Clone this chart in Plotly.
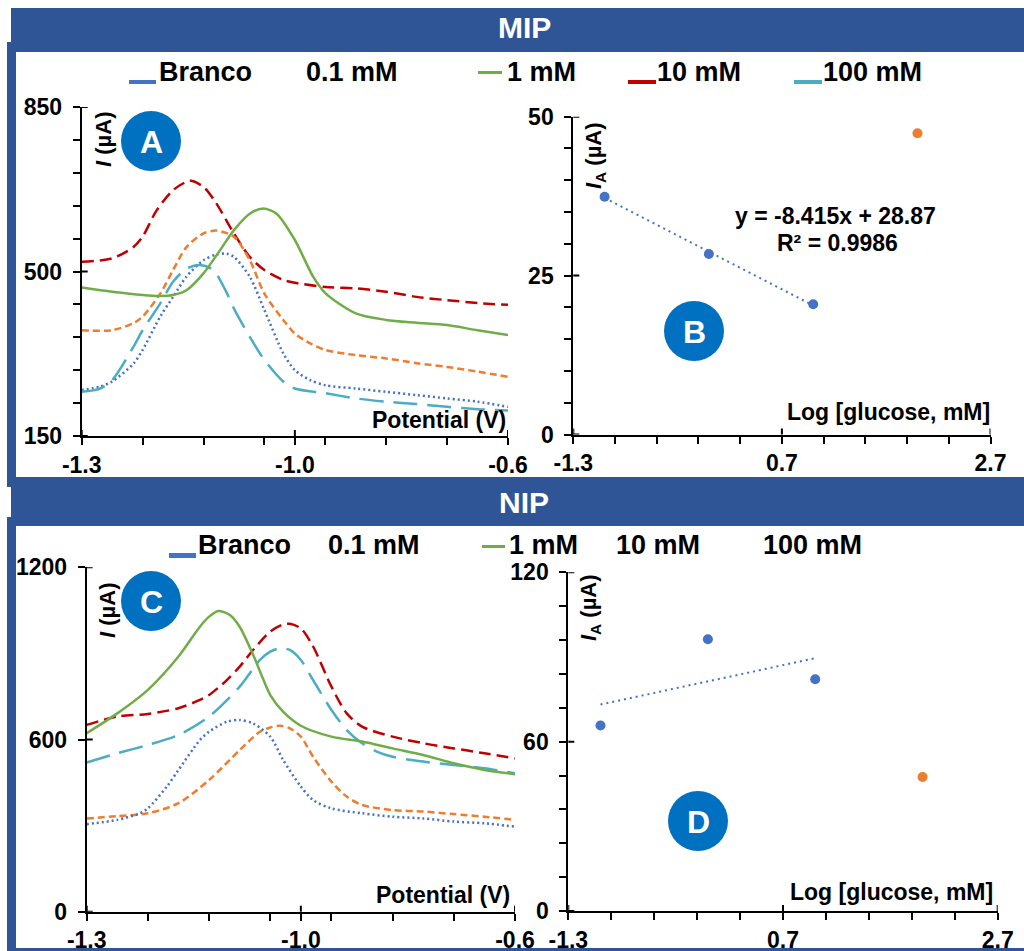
import plotly.graph_objects as go
import numpy as np

W, H = 1024, 951
FONT = "Liberation Sans, Arial, Helvetica, sans-serif"
FRAME = "#2F5597"
BADGE = "#0070C0"

C_BRANCO = "#4472C4"
C_01 = "#ED7D31"
C_1 = "#70AD47"
C_10 = "#C00000"
C_100 = "#4BACC6"

# ---------------- Panel A (MIP voltammograms) ----------------
a_branco_x = [-1.30, -1.27, -1.25, -1.215, -1.20, -1.171, -1.15, -1.128, -1.10, -1.079, -1.062, -1.05,
              -1.024, -1.00, -0.969, -0.95, -0.925, -0.90, -0.85, -0.80, -0.75, -0.70, -0.65, -0.60]
a_branco_y = [248, 255, 266, 304, 333, 404, 446, 489, 524, 536, 538, 531,
              489, 418, 326, 290, 269, 258, 251, 244, 237, 230, 223, 212]

a_01_x = [-1.30, -1.25, -1.215, -1.20, -1.171, -1.15, -1.128, -1.10, -1.079, -1.05, -1.024, -1.00,
          -0.969, -0.95, -0.925, -0.90, -0.85, -0.80, -0.75, -0.70, -0.65, -0.60]
a_01_y = [375, 375, 390, 404, 453, 503, 552, 581, 587, 574, 524, 453,
          397, 368, 347, 333, 322, 315, 305, 297, 287, 276]

a_1_x = [-1.30, -1.25, -1.20, -1.171, -1.15, -1.128, -1.10, -1.073, -1.05, -1.024, -1.002, -0.98,
         -0.95, -0.92, -0.90, -0.85, -0.80, -0.75, -0.70, -0.65, -0.60]
a_1_y = [466, 457, 450, 448, 450, 460, 496, 545, 588, 623, 634, 623,
         567, 489, 454, 411, 397, 391, 386, 375, 365]

a_10_x = [-1.30, -1.25, -1.215, -1.20, -1.177, -1.15, -1.128, -1.12, -1.10, -1.079, -1.05, -1.024,
          -1.00, -0.969, -0.95, -0.90, -0.85, -0.80, -0.75, -0.70, -0.65, -0.60]
a_10_y = [521, 528, 552, 574, 630, 673, 691, 693, 680, 645, 581, 531,
          503, 482, 476, 467, 464, 457, 446, 439, 433, 429]

a_100_x = [-1.30, -1.27, -1.25, -1.215, -1.20, -1.171, -1.15, -1.128, -1.106, -1.084, -1.062, -1.05,
           -1.024, -1.00, -0.969, -0.95, -0.90, -0.85, -0.80, -0.75, -0.70, -0.65, -0.60]
a_100_y = [244, 251, 269, 340, 375, 432, 478, 506, 514, 503, 455, 421,
           361, 312, 266, 251, 241, 230, 223, 218, 212, 207, 204]

# ---------------- Panel C (NIP voltammograms) ----------------
c_branco_x = [-1.30, -1.25, -1.213, -1.20, -1.169, -1.15, -1.115, -1.10, -1.071, -1.05, -1.028, -1.00,
              -0.979, -0.95, -0.93, -0.90, -0.85, -0.80, -0.75, -0.70, -0.65, -0.60]
c_branco_y = [305, 320, 343, 360, 436, 494, 598, 627, 662, 668, 656, 610,
              529, 436, 389, 360, 343, 331, 325, 314, 308, 296]

c_01_x = [-1.30, -1.25, -1.20, -1.15, -1.10, -1.05, -1.017, -1.00, -0.984, -0.968, -0.95, -0.93,
          -0.90, -0.875, -0.85, -0.80, -0.75, -0.70, -0.65, -0.60]
c_01_y = [325, 333, 343, 378, 459, 563, 627, 642, 648, 639, 610, 540,
          453, 401, 372, 354, 349, 340, 331, 320]

c_1_x = [-1.30, -1.25, -1.20, -1.15, -1.115, -1.10, -1.085, -1.066, -1.05, -1.028, -1.011, -1.00,
         -0.979, -0.95, -0.90, -0.85, -0.80, -0.75, -0.70, -0.65, -0.60]
c_1_y = [622, 691, 773, 889, 993, 1028, 1048, 1034, 993, 895, 807, 755,
         697, 648, 610, 593, 569, 546, 517, 494, 479]

c_10_x = [-1.30, -1.25, -1.20, -1.15, -1.115, -1.10, -1.071, -1.05, -1.028, -1.00, -0.979, -0.968,
          -0.95, -0.93, -0.90, -0.875, -0.85, -0.80, -0.75, -0.70, -0.65, -0.60]
c_10_y = [651, 680, 689, 709, 738, 755, 807, 854, 912, 976, 1001, 1003,
          987, 924, 784, 691, 645, 610, 587, 569, 552, 534]

c_100_x = [-1.30, -1.25, -1.20, -1.15, -1.10, -1.05, -1.017, -1.00, -0.984, -0.968, -0.95, -0.93,
           -0.90, -0.875, -0.85, -0.826, -0.80, -0.75, -0.70, -0.65, -0.60]
c_100_y = [520, 552, 581, 616, 680, 784, 877, 906, 918, 912, 877, 807,
           703, 633, 587, 558, 540, 523, 511, 500, 482]

# ---------------- Panels B and D (calibration) ----------------
log_conc = [-1, 0, 1]
log_conc_out = [2]
b_ia = [37.4, 28.4, 20.5]
b_ia_out = [47.4]
d_ia = [65.7, 96.3, 82.1]
d_ia_out = [47.5]
b_equation = "y = -8.415x + 28.87"
b_r2 = "R² = 0.9986"

# axis ticks
v_range = [-1.3, -0.6]
v_major = [-1.3, -0.95, -0.6]
v_major_text = ["-1.3", "-1.0", "-0.6"]
v_minor = [-1.2, -1.1, -1.0, -0.9, -0.8, -0.7]
log_range = [-1.3, 2.7]
log_major = [-1.3, 0.7, 2.7]
log_minor = [-0.9, -0.5, -0.1, 0.3, 1.1, 1.5, 1.9, 2.3]
a_yrange = [150, 850]
a_ymajor = [150, 500, 850]
a_yminor = [220, 290, 360, 430, 570, 640, 710, 780]
b_yrange = [0, 50]
b_ymajor = [0, 25, 50]
b_yminor = [5, 10, 15, 20, 30, 35, 40, 45]
c_yrange = [0, 1200]
c_ymajor = [0, 600, 1200]
d_yrange = [0, 120]
d_ymajor = [0, 60, 120]
d_yminor = [12, 24, 36, 48, 72, 84, 96, 108]

legend_labels = ["Branco", "0.1 mM", "1 mM", "10 mM", "100 mM"]


def pxx(x):
    return x / W


def pxy(y):
    return 1 - y / H


# domains in pixels -> paper
dom = {
    "A": dict(x=(81.7, 508.0), y=(107.0, 436.0)),
    "B": dict(x=(573.3, 990.5), y=(116.7, 434.5)),
    "C": dict(x=(86.7, 515.0), y=(567.3, 911.7)),
    "D": dict(x=(568.3, 997.7), y=(572.3, 911.0)),
}

fig = go.Figure()


def add_line(x, y, color, dash, xa, ya, width=2.5):
    fig.add_trace(go.Scatter(x=x, y=y, mode="lines", xaxis=xa, yaxis=ya, showlegend=False,
                             line=dict(color=color, width=width, dash=dash, shape="spline", smoothing=0.8),
                             hoverinfo="skip"))


DASH_BR = "2px,3px"
DASH_01 = "7px,4px"
DASH_10 = "12px,6px"
DASH_100 = "24px,10px"

add_line(a_10_x, a_10_y, C_10, DASH_10, "x", "y")
add_line(a_01_x, a_01_y, C_01, DASH_01, "x", "y")
add_line(a_branco_x, a_branco_y, C_BRANCO, DASH_BR, "x", "y")
add_line(a_100_x, a_100_y, C_100, DASH_100, "x", "y")
add_line(a_1_x, a_1_y, C_1, "solid", "x", "y")

add_line(c_10_x, c_10_y, C_10, DASH_10, "x3", "y3")
add_line(c_100_x, c_100_y, C_100, DASH_100, "x3", "y3")
add_line(c_01_x, c_01_y, C_01, DASH_01, "x3", "y3")
add_line(c_branco_x, c_branco_y, C_BRANCO, DASH_BR, "x3", "y3")
add_line(c_1_x, c_1_y, C_1, "solid", "x3", "y3")

# calibration: trend lines fitted from data
for ys, xa, ya in [(b_ia, "x2", "y2"), (d_ia, "x4", "y4")]:
    k, b0 = np.polyfit(log_conc, ys, 1)
    tx = [min(log_conc), max(log_conc)]
    fig.add_trace(go.Scatter(x=tx, y=[k * t + b0 for t in tx], mode="lines", xaxis=xa, yaxis=ya,
                             showlegend=False, line=dict(color=C_BRANCO, width=2, dash="2px,4px"),
                             hoverinfo="skip"))
    fig.add_trace(go.Scatter(x=log_conc, y=ys, mode="markers", xaxis=xa, yaxis=ya, showlegend=False,
                             marker=dict(color=C_BRANCO, size=10), hoverinfo="skip"))
fig.add_trace(go.Scatter(x=log_conc_out, y=b_ia_out, mode="markers", xaxis="x2", yaxis="y2",
                         showlegend=False, marker=dict(color=C_01, size=10)))
fig.add_trace(go.Scatter(x=log_conc_out, y=d_ia_out, mode="markers", xaxis="x4", yaxis="y4",
                         showlegend=False, marker=dict(color=C_01, size=10)))

TICKFONT = dict(family=FONT, size=23, color="black", weight="bold")


def xaxis(key, rng, major, major_text, minor, anchor):
    d = dom[key]["x"]
    ax = dict(domain=[pxx(d[0]), pxx(d[1])], range=rng, anchor=anchor, automargin=False,
              showgrid=False, zeroline=False, showline=True, linecolor="black", linewidth=2,
              ticks="outside", ticklen=7, tickwidth=2, tickcolor="black",
              tickmode="array", tickvals=major, ticktext=major_text,
              tickfont=TICKFONT, ticklabelstandoff=0, fixedrange=True)
    if minor:
        ax["minor"] = dict(tickmode="array", tickvals=minor, ticks="outside", ticklen=7,
                           tickwidth=2, tickcolor="black", showgrid=False)
    return ax


def yaxis(key, rng, major, minor, anchor):
    d = dom[key]["y"]
    ax = dict(domain=[pxy(d[1]), pxy(d[0])], range=rng, anchor=anchor, automargin=False,
              showgrid=False, zeroline=False, showline=True, linecolor="black", linewidth=2,
              ticks="outside", ticklen=7, tickwidth=2, tickcolor="black",
              tickmode="array", tickvals=major, ticktext=[str(v) for v in major],
              tickfont=TICKFONT, ticklabelstandoff=6, fixedrange=True)
    if minor:
        ax["minor"] = dict(tickmode="array", tickvals=minor, ticks="outside", ticklen=7,
                           tickwidth=2, tickcolor="black", showgrid=False)
    return ax


fig.update_layout(
    xaxis=xaxis("A", v_range, v_major, v_major_text, v_minor, "y"),
    yaxis=yaxis("A", a_yrange, a_ymajor, a_yminor, "x"),
    xaxis2=xaxis("B", log_range, log_major, [str(v) for v in log_major], log_minor, "y2"),
    yaxis2=yaxis("B", b_yrange, b_ymajor, b_yminor, "x2"),
    xaxis3=xaxis("C", v_range, v_major, v_major_text, v_minor, "y3"),
    yaxis3=yaxis("C", c_yrange, c_ymajor, None, "x3"),
    xaxis4=xaxis("D", log_range, log_major, [str(v) for v in log_major], log_minor, "y4"),
    yaxis4=yaxis("D", d_yrange, d_ymajor, d_yminor, "x4"),
)

shapes = []


# inner half of the crossing major ticks
def cross_ticks(key, xa, ya, xmaj, ymaj):
    dx = dom[key]["x"][1] - dom[key]["x"][0]
    dy = dom[key]["y"][1] - dom[key]["y"][0]
    for v in xmaj:
        shapes.append(dict(type="line", xref=xa, yref=ya + " domain", x0=v, x1=v, y0=0, y1=6 / dy,
                           line=dict(color="black", width=2)))
    for v in ymaj:
        shapes.append(dict(type="line", xref=xa + " domain", yref=ya, x0=0, x1=6 / dx, y0=v, y1=v,
                           line=dict(color="black", width=2)))


cross_ticks("A", "x", "y", v_major, a_ymajor)
cross_ticks("B", "x2", "y2", log_major, b_ymajor)
cross_ticks("C", "x3", "y3", v_major, c_ymajor)
cross_ticks("D", "x4", "y4", log_major, d_ymajor)


def rect(x0, y0, x1, y1, color):
    shapes.append(dict(type="rect", xref="paper", yref="paper", x0=pxx(x0), x1=pxx(x1),
                       y0=pxy(y1), y1=pxy(y0), fillcolor=color, line=dict(width=0), layer="above"))


# frames and banners
rect(11, 8, 1024, 52, FRAME)
rect(7, 42, 16, 487, FRAME)
rect(7, 477, 1024, 487, FRAME)
rect(11, 487, 1024, 526, FRAME)
rect(7, 517, 16, 951, FRAME)
rect(7, 948, 1024, 951, FRAME)

# legend keys
rect(129, 80, 156, 84, C_BRANCO)
rect(478, 71, 502, 74, C_1)
rect(628, 80, 656, 84, C_10)
rect(794, 80, 822, 84, C_100)
rect(169, 553, 196, 558, C_BRANCO)
rect(482, 545, 505, 548, C_1)

# badges
badge_letters = ["A", "B", "C", "D"]
badge_centers = [(151, 141), (694, 331), (151, 601), (698, 821)]
for (cx, cy) in badge_centers:
    shapes.append(dict(type="circle", xref="paper", yref="paper", x0=pxx(cx - 30), x1=pxx(cx + 30),
                       y0=pxy(cy + 30), y1=pxy(cy - 30), fillcolor=BADGE, line=dict(width=0)))

fig.update_layout(shapes=shapes)

ann = []


def text(x, y, s, size, color="black", xanchor="center", yanchor="middle", angle=0):
    ann.append(dict(x=pxx(x), y=pxy(y), xref="paper", yref="paper", text=s, showarrow=False,
                    xanchor=xanchor, yanchor=yanchor, textangle=angle,
                    font=dict(family=FONT, size=size, color=color, weight="bold")))


text(524, 27, "MIP", 30, "white")
text(524, 502, "NIP", 30, "white")

for lab, x in zip(legend_labels, [157, 304, 505, 655, 821]):
    text(x, 72, lab, 27, xanchor="left")
for lab, x in zip(legend_labels, [196, 326, 507, 614, 761]):
    text(x, 545, lab, 27, xanchor="left")

for letter, (cx, cy) in zip(badge_letters, badge_centers):
    text(cx, cy + 1, letter, 32, "white")

text(508, 420, "Potential (V)", 23, xanchor="right")
text(512, 895, "Potential (V)", 23, xanchor="right")
text(992, 412, "Log [glucose, mM]", 23, xanchor="right")
text(995, 892, "Log [glucose, mM]", 23, xanchor="right")

text(104, 140, "<i>I</i> (µA)", 22, angle=-90)
text(107, 611, "<i>I</i> (µA)", 22, angle=-90)
text(595, 156, "<i>I</i><sub>A</sub> (µA)", 22, angle=-90)
text(590, 608, "<i>I</i><sub>A</sub> (µA)", 22, angle=-90)

text(835, 216, b_equation, 23)
text(837, 243, b_r2, 23)

fig.update_layout(annotations=ann, width=W, height=H,
                  margin=dict(l=0, r=0, t=0, b=0, pad=0, autoexpand=False),
                  paper_bgcolor="white", plot_bgcolor="white", showlegend=False,
                  font=dict(family=FONT))

fig.write_html("out.html", config={"displayModeBar": False})
